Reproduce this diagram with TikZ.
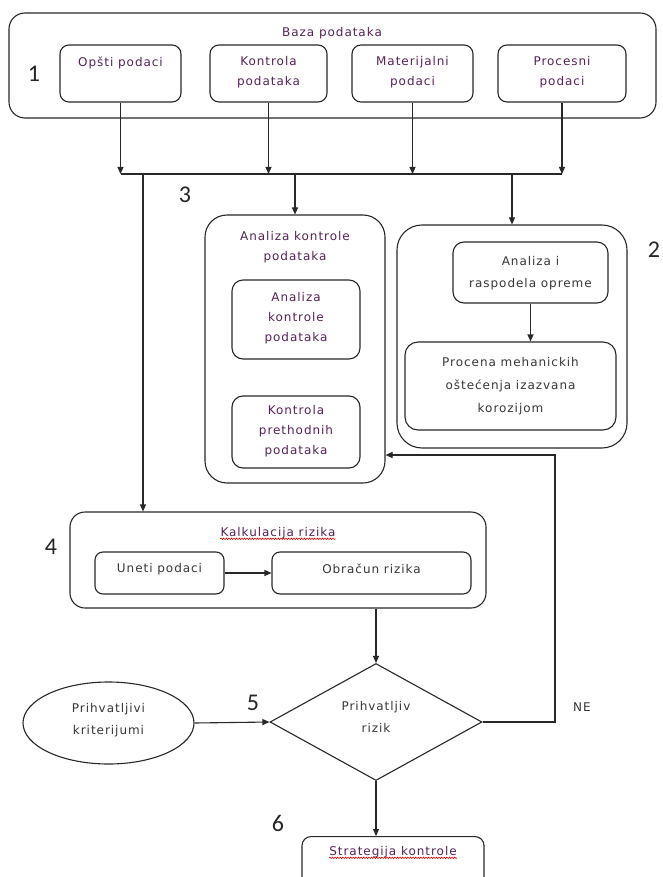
\documentclass[tikz,border=0pt]{standalone}
\usepackage{fontspec}
\usetikzlibrary{shapes.geometric,arrows.meta,decorations.pathmorphing}
\newfontfamily\dfont[LetterSpace=8]{DejaVu Sans}
\newfontfamily\nfont{Carlito}
\definecolor{tpurple}{RGB}{85,35,85}
\definecolor{tgray}{RGB}{55,55,55}
\definecolor{lcol}{RGB}{40,40,40}
\begin{document}
\begin{tikzpicture}[x=1pt,y=-1pt,
 box/.style={draw=lcol, line width=1.1pt, rounded corners=9pt, inner sep=0pt},
 txt/.style={font=\dfont\fontsize{12}{20}\selectfont, align=center, text=tpurple, inner sep=0pt},
 gtxt/.style={txt, text=tgray},
 num/.style={font=\nfont\fontsize{24}{24}\selectfont, text=black!85, inner sep=0pt},
 arr/.style={draw=lcol, line width=1.1pt, -{Triangle[length=7pt,width=6pt]}},
 plain/.style={draw=lcol, line width=1.1pt},
 wavy/.style={draw=red!85!black, line width=0.6pt, decorate, decoration={snake, amplitude=0.7pt, segment length=2.6pt}}
]
\path[use as bounding box] (0,0) rectangle (662,877);
\clip (0,0) rectangle (662,877);
\fill[white] (0,0) rectangle (662,877);

% 1 - database
\node[box, rounded corners=16pt, minimum width=647pt, minimum height=105pt] (baza) at (332.5,65.5) {};
\node[txt] (bazat) at (332,33) {Baza podataka};
\node[num] (n1) at (34,74) {1};
\node[box, minimum width=121pt, minimum height=57pt] (opsti) at (120.5,73.5) {};
\node[txt] (opstit) at (120.5,63) {Opšti podaci};
\node[box, minimum width=117pt, minimum height=57pt] (kontr) at (268.5,73.5) {};
\node[txt] (kontrt) at (268.5,72.5) {Kontrola\\podataka};
\node[box, minimum width=121pt, minimum height=57pt] (mater) at (412.5,73.5) {};
\node[txt] (matert) at (412.5,72.5) {Materijalni\\podaci};
\node[box, minimum width=128pt, minimum height=57pt] (proces) at (562,73.5) {};
\node[txt] (procest) at (562,72.5) {Procesni\\podaci};

% bus
\coordinate (busy) at (0,174);
\draw[arr] (opsti.south) -- (opsti.south |- busy);
\draw[arr] (kontr.south) -- (kontr.south |- busy);
\draw[arr] (mater.south) -- (mater.south |- busy);
\draw[arr] (proces.south) -- (proces.south |- busy);
\draw[plain] (opsti.south |- busy) -- (proces.south |- busy);
\node[num] (n3) at (185,195) {3};

% 3 - analiza kontrole
\node[box, rounded corners=22pt, minimum width=180pt, minimum height=268pt] (ak) at (295,349) {};
\node[txt] (akt) at (295,247) {Analiza kontrole\\podataka};
\node[box, rounded corners=11pt, minimum width=128pt, minimum height=79pt] (ak1) at (296,319.5) {};
\node[txt] (ak1t) at (296,318) {Analiza\\kontrole\\podataka};
\node[box, rounded corners=11pt, minimum width=128pt, minimum height=72pt] (ak2) at (296,432) {};
\node[txt] (ak2t) at (296,431) {Kontrola\\prethodnih\\podataka};

% 2 - right box
\node[box, rounded corners=25pt, minimum width=230pt, minimum height=223pt] (rb) at (512,336.5) {};
\node[box, rounded corners=11pt, minimum width=155pt, minimum height=61pt] (ar) at (530.5,272.5) {};
\node[gtxt, font=\dfont\fontsize{12}{22}\selectfont] (art) at (530.5,273) {Analiza i\\raspodela opreme};
\node[box, rounded corners=13pt, minimum width=211pt, minimum height=88pt] (pr) at (510.5,386) {};
\node[gtxt, font=\dfont\fontsize{12}{23}\selectfont] (prt) at (510.5,386) {Procena mehanickih\\oštećenja izazvana\\korozijom};
\draw[arr] (ar.south) -- (ar.south |- pr.north);
\node[num] (n2) at (654,250) {2};

\draw[arr] (ak.north |- busy) -- (ak.north);
\draw[arr] (rb.north |- busy) -- (rb.north);

% 4 - kalkulacija
\node[box, rounded corners=15pt, minimum width=416pt, minimum height=96pt] (kk) at (278,560) {};
\node[txt] (kkt) at (278,533) {Kalkulacija rizika};
\draw[wavy] ([yshift=-2.5pt]kkt.base west) -- ([yshift=-2.5pt]kkt.base east);
\node[num] (n4) at (51,547) {4};
\node[box, rounded corners=8pt, minimum width=129pt, minimum height=42pt] (un) at (159.5,573) {};
\node[gtxt] (unt) at (159.5,569) {Uneti podaci};
\node[box, rounded corners=8pt, minimum width=199pt, minimum height=42pt] (ob) at (371.5,573) {};
\node[gtxt] (obt) at (371.5,569) {Obračun rizika};
\draw[arr] (un.east) -- (ob.west);

\coordinate (tap) at (143,174);
\draw[arr] (tap) -- (tap |- kk.north);

% 5 - decision
\node[draw=lcol, line width=1.1pt, diamond, minimum width=212pt, minimum height=117pt, inner sep=0pt] (dm) at (376,722) {};
\node[gtxt, font=\dfont\fontsize{12}{22}\selectfont] (dmt) at (376,717) {Prihvatljiv\\rizik};
\node[draw=lcol, line width=1.1pt, ellipse, minimum width=171pt, minimum height=82pt, inner sep=0pt] (el) at (108.5,723) {};
\node[gtxt, font=\dfont\fontsize{12}{22}\selectfont] (elt) at (108.5,720) {Prihvatljivi\\kriterijumi};
\draw[arr] (el.east) -- (dm.west);
\draw[arr] (dm.north |- kk.south) -- (dm.north);
\node[num] (n5) at (253,703) {5};

\coordinate (fb) at (555,455);
\draw[arr] (dm.east) -| (fb) -- (fb -| ak.east);
\node[gtxt, font=\dfont\fontsize{12}{14}\selectfont] (ne) at (582,707) {NE};

% 6 - strategija
\node[box, rounded corners=9pt, minimum width=182pt, minimum height=70pt, anchor=north] (st) at (393,836) {};
\node[txt] (stt) at (393,852) {Strategija kontrole};
\draw[wavy] ([yshift=-2.5pt]stt.base west) -- ([yshift=-2.5pt]stt.base east);
\draw[arr] (dm.south) -- (dm.south |- st.north);
\node[num] (n6) at (278,823) {6};
\end{tikzpicture}
\end{document}
